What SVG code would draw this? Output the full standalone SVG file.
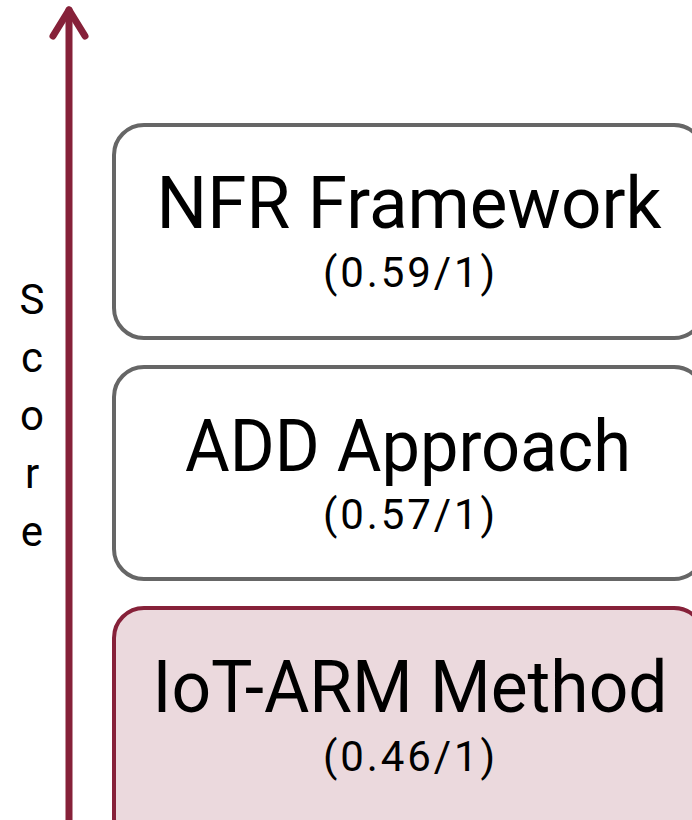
<svg xmlns="http://www.w3.org/2000/svg" width="692" height="820" viewBox="0 0 692 820">
  <style>
    .box { fill: #ffffff; stroke: #666666; stroke-width: 4; }
    .box.hl { fill: #ebd9dd; stroke: #862139; }
    .title { font-family: Roboto, "Liberation Sans", sans-serif; font-size: 72px; fill: #000; text-anchor: middle; }
    .score { font-family: Roboto, "Liberation Sans", sans-serif; font-size: 42px; fill: #000; text-anchor: middle; }
    .axis { font-family: Roboto, "Liberation Sans", sans-serif; font-size: 42px; fill: #000; text-anchor: middle; }
    .arrow { fill: none; stroke: #862139; stroke-width: 7; stroke-linecap: round; stroke-linejoin: round; }
  </style>

  <!-- vertical score axis -->
  <g id="connectors">
    <line class="arrow" x1="69" y1="830" x2="69" y2="10"/>
    <polyline class="arrow" points="53,36 69,10 85,36"/>
  </g>

  <g id="axis-label">
    <text class="axis" x="32" y="314">S</text>
    <text class="axis" x="32" y="372">c</text>
    <text class="axis" x="32" y="430">o</text>
    <text class="axis" x="32" y="488">r</text>
    <text class="axis" x="32" y="546">e</text>
  </g>

  <g id="nfr-framework">
    <rect class="box" x="114" y="125" width="590" height="213" rx="30"/>
    <text class="title" x="409" y="228" textLength="505" lengthAdjust="spacingAndGlyphs">NFR Framework</text>
    <text class="score" x="409" y="287" textLength="172" lengthAdjust="spacing">(0.59/1)</text>
  </g>

  <g id="add-approach">
    <rect class="box" x="114" y="367" width="590" height="212" rx="30"/>
    <text class="title" x="408" y="471" textLength="446" lengthAdjust="spacingAndGlyphs">ADD Approach</text>
    <text class="score" x="409" y="529" textLength="172" lengthAdjust="spacing">(0.57/1)</text>
  </g>

  <g id="iot-arm-method">
    <rect class="box hl" x="114" y="608" width="590" height="240" rx="30"/>
    <text class="title" x="410" y="712" textLength="515" lengthAdjust="spacingAndGlyphs">IoT-ARM Method</text>
    <text class="score" x="409" y="771" textLength="172" lengthAdjust="spacing">(0.46/1)</text>
  </g>
</svg>
